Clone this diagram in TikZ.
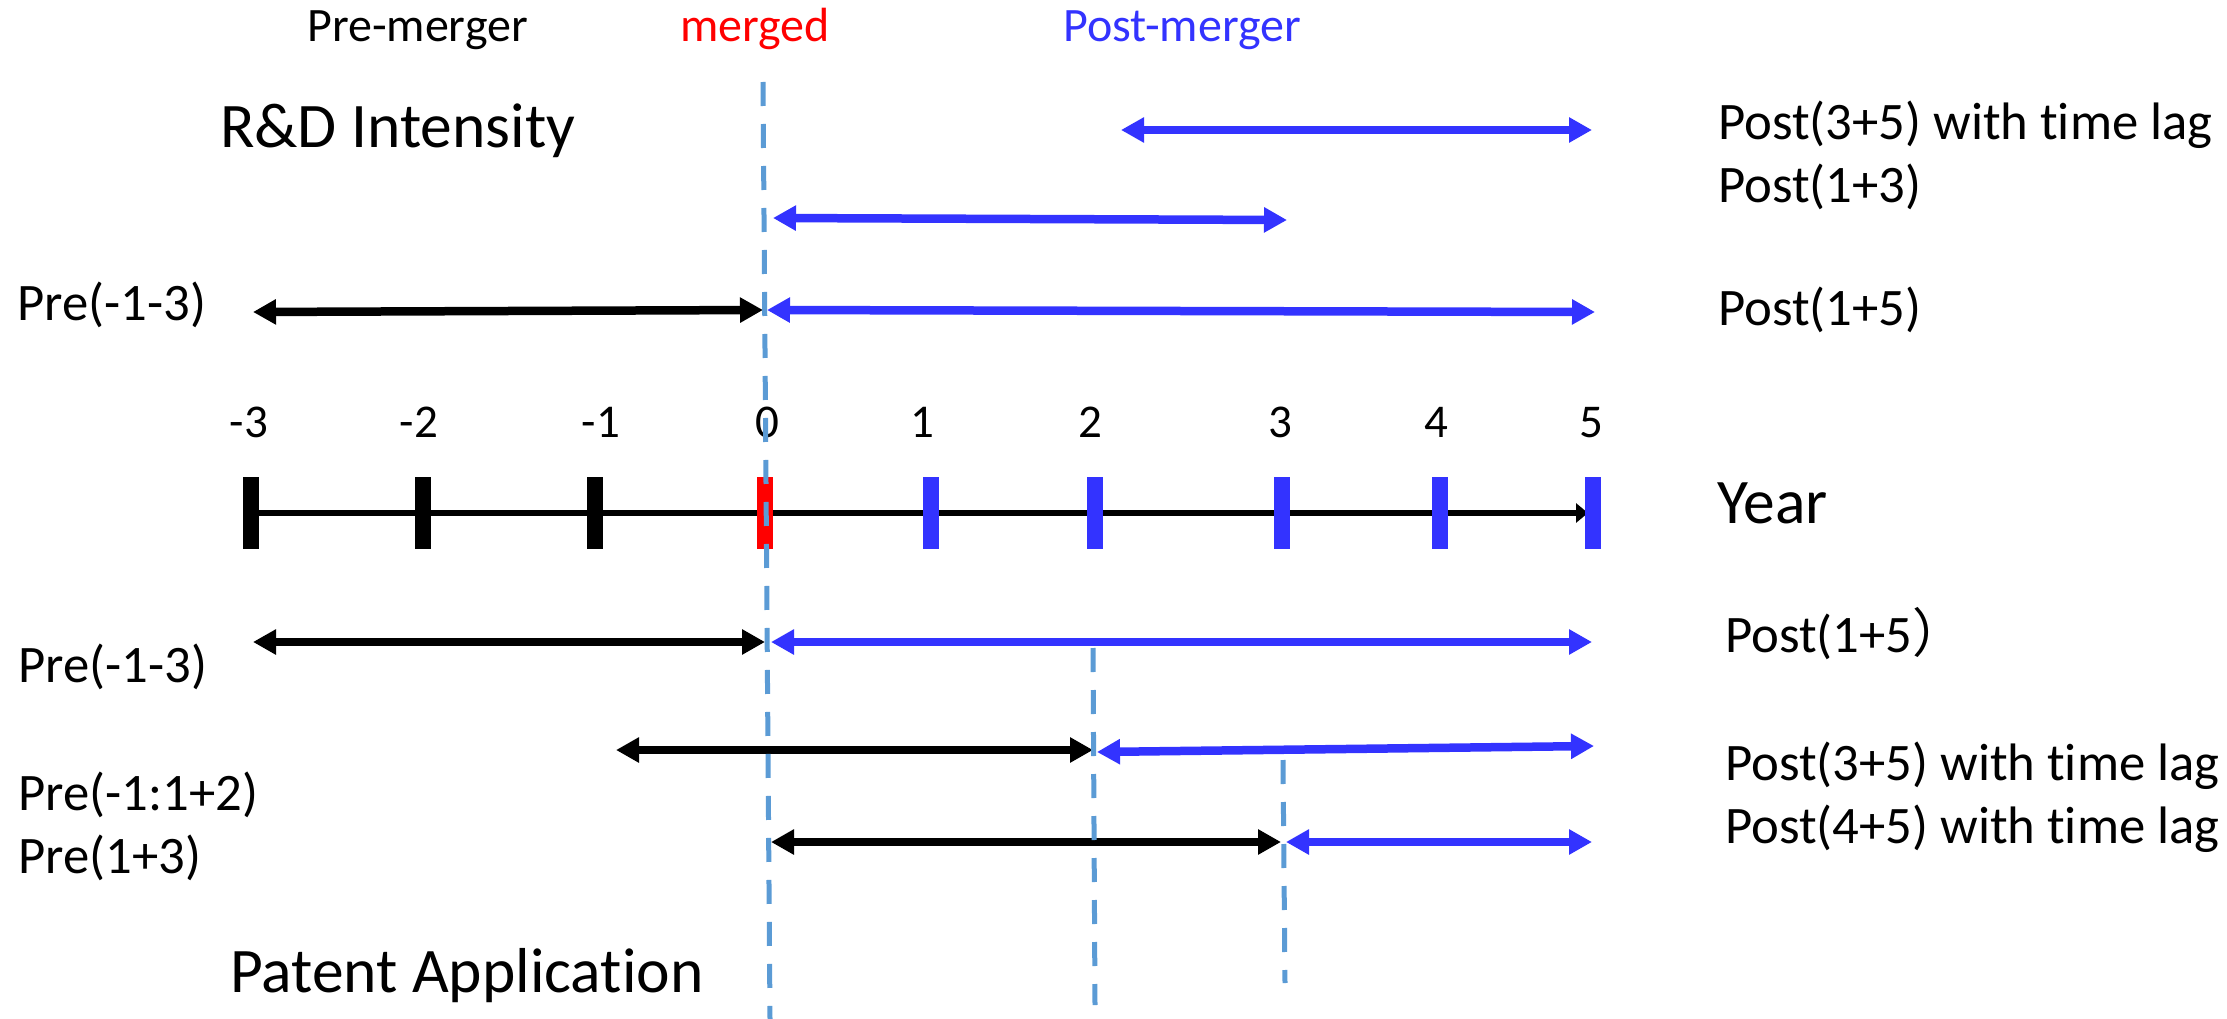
\documentclass[tikz,border=0pt]{standalone}
\usepackage{fontspec}
\setmainfont{Carlito}[Ligatures=NoCommon]
\newfontfamily\cjkfont{Noto Sans CJK SC}
\usetikzlibrary{arrows.meta}
\definecolor{postblue}{HTML}{3333FF}
\definecolor{guide}{HTML}{5B9BD5}

\begin{document}
\begin{tikzpicture}[x=1pt,y=-1pt,
  lbl/.style={inner sep=0pt, anchor=base west, font=\fontsize{52.7}{63}\selectfont},
  head/.style={inner sep=0pt, anchor=base west, font=\fontsize{48}{58}\selectfont},
  big/.style={inner sep=0pt, anchor=base west, font=\fontsize{63.5}{76}\selectfont},
  yearnum/.style={inner sep=0pt, anchor=base, font=\fontsize{47}{56}\selectfont},
  span/.style={line width=8.5pt, {Triangle[length=23pt,width=24pt]}-{Triangle[length=23pt,width=24pt]}},
  yeartick/.style={line width=15.5pt},
  axisline/.style={line width=6.5pt, -{Triangle[length=12pt,width=19pt]}},
  guideline/.style={guide, line width=5pt, dash pattern=on 24pt off 18pt},
]
\useasboundingbox (0,0) rectangle (2227,1019);

% headings
\node[head] (premerger) at (307,42) {Pre-merger};
\node[head, text=red] (merged) at (680,42) {merged};
\node[head, text=postblue] (postmerger) at (1063,42) {Post-merger};

\node[big] (rd) at (220,148) {R\&D Intensity};
\node[big] (patent) at (230,992) {Patent Application};
\node[big] (year) at (1717,523) {Year};

% year positions on the axis
\coordinate (tm3) at (251,513);
\coordinate (tm2) at (423,513);
\coordinate (tm1) at (595,513);
\coordinate (t0)  at (765,513);
\coordinate (t1)  at (931,513);
\coordinate (t2)  at (1095,513);
\coordinate (t3)  at (1282,513);
\coordinate (t4)  at (1440,513);
\coordinate (t5)  at (1593,513);
\coordinate (axisend) at (1588,513);

\draw[axisline] (tm3) -- (axisend);

\draw[yeartick] (tm3) ++(0,-36) -- ++(0,72);
\draw[yeartick] (tm2) ++(0,-36) -- ++(0,72);
\draw[yeartick] (tm1) ++(0,-36) -- ++(0,72);
\draw[yeartick, red] (t0) ++(0,-36) -- ++(0,72);
\draw[yeartick, postblue] (t1) ++(0,-36) -- ++(0,72);
\draw[yeartick, postblue] (t2) ++(0,-36) -- ++(0,72);
\draw[yeartick, postblue] (t3) ++(0,-36) -- ++(0,72);
\draw[yeartick, postblue] (t4) ++(0,-36) -- ++(0,72);
\draw[yeartick, postblue] (t5) ++(0,-36) -- ++(0,72);

\node[yearnum] (nm3) at (249,437) {-3};
\node[yearnum] (nm2) at (419,437) {-2};
\node[yearnum] (nm1) at (601,437) {-1};
\node[yearnum] (n0)  at (767,437) {0};
\node[yearnum] (n1)  at (922,437) {1};
\node[yearnum] (n2)  at (1090,437) {2};
\node[yearnum] (n3)  at (1280,437) {3};
\node[yearnum] (n4)  at (1436,437) {4};
\node[yearnum] (n5)  at (1591,437) {5};

% R&D intensity windows
\coordinate (ra1) at (1121,130); \coordinate (ra2) at (1592,130);
\coordinate (rb1) at (773,218);  \coordinate (rb2) at (1287,220);
\coordinate (rc1) at (253,312);  \coordinate (rc2) at (763,310);
\coordinate (rc3) at (767,310);  \coordinate (rc4) at (1595,312);

\draw[span, postblue] (ra1) -- (ra2);
\draw[span, postblue] (rb1) -- (rb2);
\draw[span] (rc1) -- (rc2);
\draw[span, postblue] (rc3) -- (rc4);

\node[lbl] (rlag) at (1718,140) {Post(3+5) with time lag};
\node[lbl] (r13)  at (1718,203) {Post(1+3)};
\node[lbl] (r15)  at (1718,325) {Post(1+5)};
\node[lbl] (rpre) at (17,320) {Pre(-1-3)};

% patent application windows
\coordinate (pd1) at (253,642);  \coordinate (pd2) at (765,642);
\coordinate (pd3) at (771,642);  \coordinate (pd4) at (1592,642);
\coordinate (pe1) at (616,750);  \coordinate (pe2) at (1093,750);
\coordinate (pe3) at (1097,752); \coordinate (pe4) at (1594,746);
\coordinate (pf1) at (771,842);  \coordinate (pf2) at (1281,842);
\coordinate (pf3) at (1286,842); \coordinate (pf4) at (1592,842);

\draw[span] (pd1) -- (pd2);
\draw[span, postblue] (pd3) -- (pd4);
\draw[span] (pe1) -- (pe2);
\draw[span, postblue] (pe3) -- (pe4);
\draw[span] (pf1) -- (pf2);
\draw[span, postblue] (pf3) -- (pf4);

\node[lbl] (p15)   at (1725,652) {Post(1+5{\cjkfont ）}};
\node[lbl] (plag3) at (1725,780) {Post(3+5) with time lag};
\node[lbl] (plag4) at (1725,843) {Post(4+5) with time lag};
\node[lbl] (ppre1) at (18,682) {Pre(-1-3)};
\node[lbl] (ppre2) at (18,810) {Pre(-1:1+2)};
\node[lbl] (ppre3) at (18,873) {Pre(1+3)};

% dashed guides at the merger year and the lag years
\coordinate (g0top) at (763,82);   \coordinate (g0bot) at (770,1019);
\coordinate (g2top) at (1093,648); \coordinate (g2bot) at (1095,1005);
\coordinate (g3top) at (1283,760); \coordinate (g3bot) at (1285,983);

\draw[guideline] (g0top) -- (g0bot);
\draw[guideline] (g2top) -- (g2bot);
\draw[guideline] (g3top) -- (g3bot);
\end{tikzpicture}
\end{document}
